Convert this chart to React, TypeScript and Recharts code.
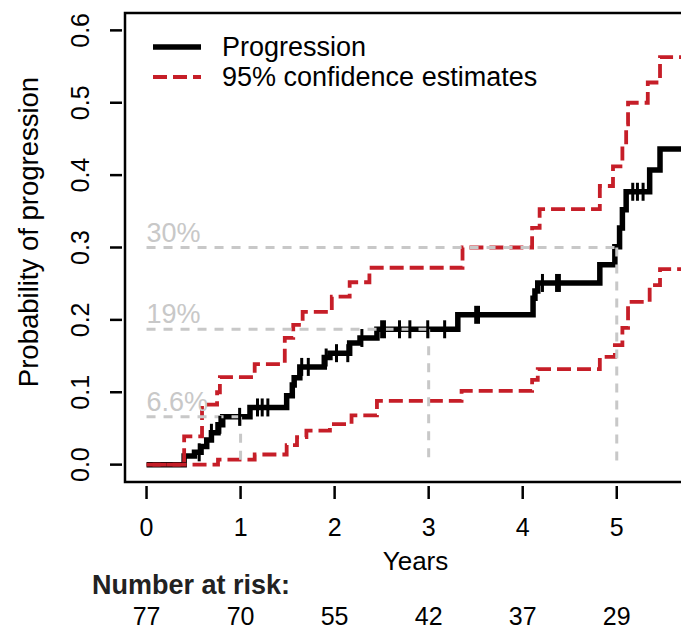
import { ComposedChart, Line, Scatter, XAxis, YAxis, ReferenceLine, ReferenceArea } from 'recharts';

const FONT = '"Liberation Sans", Arial, Helvetica, sans-serif';
const RED = '#C61E28';
const GREY = '#C8C8C8';

// cumulative probability of progression (step function, years)
const progTimes = [0, 0.40, 0.51, 0.58, 0.64, 0.69, 0.76, 0.81, 1.10, 1.49, 1.55, 1.57, 1.63, 1.89, 1.95, 2.16, 2.27, 2.45, 3.31, 4.11, 4.13, 4.16, 4.82, 4.98, 5.03, 5.06, 5.10, 5.35, 5.46, 5.95];
const progValues = [0, 0.012, 0.017, 0.025, 0.034, 0.044, 0.055, 0.066, 0.079, 0.095, 0.110, 0.120, 0.135, 0.148, 0.154, 0.168, 0.175, 0.187, 0.207, 0.230, 0.240, 0.251, 0.276, 0.301, 0.327, 0.352, 0.377, 0.407, 0.436, 0.436];

// 95% confidence bands
const upperTimes = [0, 0.40, 0.59, 0.75, 0.78, 1.15, 1.47, 1.56, 1.66, 1.97, 2.16, 2.37, 3.36, 4.10, 4.18, 4.82, 4.96, 5.06, 5.10, 5.12, 5.33, 5.46, 5.95];
const upperValues = [0, 0.039, 0.083, 0.100, 0.121, 0.139, 0.175, 0.193, 0.211, 0.232, 0.252, 0.272, 0.300, 0.327, 0.353, 0.385, 0.412, 0.440, 0.470, 0.500, 0.528, 0.563, 0.563];
const lowerTimes = [0, 0.76, 1.15, 1.49, 1.60, 1.70, 1.95, 2.18, 2.45, 3.35, 4.10, 4.16, 4.82, 4.98, 5.06, 5.12, 5.35, 5.46, 5.95];
const lowerValues = [0, 0.007, 0.014, 0.027, 0.038, 0.047, 0.056, 0.068, 0.088, 0.102, 0.117, 0.132, 0.149, 0.165, 0.189, 0.225, 0.248, 0.270, 0.270];

// censored observations (years)
const censorTimes = [0.56, 0.69, 0.78, 0.99, 1.18, 1.23, 1.29, 1.65, 1.72, 1.91, 2.02, 2.14, 2.29, 2.50, 2.53, 2.69, 2.80, 2.99, 3.17, 3.50, 3.53, 4.21, 4.36, 4.39, 5.17, 5.22, 5.28];

// milestone estimates
const milestoneYears = [1, 3, 5];
const milestoneProbs = [0.066, 0.187, 0.30];
const milestoneLabels = ['6.6%', '19%', '30%'];

const xTicks = [0, 1, 2, 3, 4, 5];
const yTicks = [0, 0.1, 0.2, 0.3, 0.4, 0.5, 0.6];
const atRisk = [77, 70, 55, 42, 37, 29];

const X_DOMAIN: [number, number] = [-0.229, 5.949];
const Y_DOMAIN: [number, number] = [-0.024, 0.624];

const progData = progTimes.map((t, i) => ({ t, p: progValues[i] }));
const upperData = upperTimes.map((t, i) => ({ t, p: upperValues[i] }));
const lowerData = lowerTimes.map((t, i) => ({ t, p: lowerValues[i] }));

function valueAt(t: number) {
  let v = 0;
  for (let i = 0; i < progTimes.length; i++) {
    if (progTimes[i] <= t) v = progValues[i];
  }
  return v;
}

const censorData = censorTimes.map((t) => ({ t, p: valueAt(t) }));
const milestoneLabelData = milestoneProbs.map((p, i) => ({ t: 0, p, label: milestoneLabels[i] }));

function XTick(props: any) {
  const { x, payload, index } = props;
  return (
    <g>
      <line x1={x} x2={x} y1={486} y2={499} stroke="#000" strokeWidth={2.5} />
      <text x={x} y={536} textAnchor="middle" fontSize={25} fontFamily={FONT} fill="#000">
        {payload.value}
      </text>
      <text x={x} y={625} textAnchor="middle" fontSize={25} fontFamily={FONT} fill="#000">
        {atRisk[index]}
      </text>
    </g>
  );
}

function YTick(props: any) {
  const { y, payload } = props;
  return (
    <g>
      <line x1={110} x2={122} y1={y} y2={y} stroke="#000" strokeWidth={2.5} />
      <text
        x={89}
        y={y}
        transform={`rotate(-90, 89, ${y})`}
        textAnchor="middle"
        fontSize={25}
        fontFamily={FONT}
        fill="#000"
      >
        {Number(payload.value).toFixed(1)}
      </text>
    </g>
  );
}

function CensorMark(props: any) {
  const { cx, cy } = props;
  return <line x1={cx} x2={cx} y1={cy - 9} y2={cy + 9} stroke="#000" strokeWidth={3} />;
}

function MilestoneLabel(props: any) {
  const { cx, cy, payload } = props;
  return (
    <text x={cx} y={cy - 6} fontSize={27} fontFamily={FONT} fill={GREY}>
      {payload.label}
    </text>
  );
}

export default function App() {
  return (
    <div style={{ position: 'absolute', left: 0, top: 0, width: 681, height: 629, overflow: 'hidden', background: '#fff', fontFamily: FONT }}>
      <ComposedChart width={720} height={629} margin={{ top: 13, right: 14, bottom: 0, left: 0 }}>
        <XAxis
          dataKey="t"
          type="number"
          domain={X_DOMAIN}
          allowDataOverflow
          ticks={xTicks}
          interval={0}
          height={147}
          axisLine={false}
          tickLine={false}
          tick={<XTick />}
          label={{ value: 'Years', position: 'insideTop', offset: 70, fill: '#000', fontSize: 26, fontFamily: FONT }}
        />
        <YAxis
          type="number"
          domain={Y_DOMAIN}
          allowDataOverflow
          ticks={yTicks}
          interval={0}
          width={125}
          axisLine={false}
          tickLine={false}
          tick={<YTick />}
        />
        <ReferenceArea x1={X_DOMAIN[0]} x2={X_DOMAIN[1]} y1={Y_DOMAIN[0]} y2={Y_DOMAIN[1]} fill="none" stroke="#000" strokeWidth={2.5} />
        <Line data={progData} dataKey="p" type="stepAfter" stroke="#000" strokeWidth={5.5} dot={false} activeDot={false} isAnimationActive={false} />
        <Scatter data={censorData} dataKey="p" shape={<CensorMark />} isAnimationActive={false} />
        <Line data={upperData} dataKey="p" type="stepAfter" stroke={RED} strokeWidth={3.8} strokeDasharray="14 6" dot={false} activeDot={false} isAnimationActive={false} />
        <Line data={lowerData} dataKey="p" type="stepAfter" stroke={RED} strokeWidth={3.8} strokeDasharray="14 6" strokeDashoffset={14} dot={false} activeDot={false} isAnimationActive={false} />
        {milestoneYears.map((yr, i) => (
          <ReferenceLine
            key={`h${yr}`}
            segment={[{ x: 0, y: milestoneProbs[i] }, { x: yr, y: milestoneProbs[i] }]}
            stroke={GREY}
            strokeWidth={3}
            strokeDasharray="9 8"
          />
        ))}
        {milestoneYears.map((yr, i) => (
          <ReferenceLine
            key={`v${yr}`}
            segment={[{ x: yr, y: milestoneProbs[i] }, { x: yr, y: 0 }]}
            stroke={GREY}
            strokeWidth={3}
            strokeDasharray="9 8"
          />
        ))}
        <Scatter data={milestoneLabelData} dataKey="p" shape={<MilestoneLabel />} isAnimationActive={false} />
      </ComposedChart>

      <svg width={681} height={629} style={{ position: 'absolute', left: 0, top: 0, pointerEvents: 'none' }}>
        <text
          x={38}
          y={232}
          transform="rotate(-90, 38, 232)"
          textAnchor="middle"
          fontSize={27.5}
          fontFamily={FONT}
          fill="#000"
        >
          Probability of progression
        </text>
        <line x1={153} x2={201} y1={47} y2={47} stroke="#000" strokeWidth={5.5} />
        <text x={222} y={56} fontSize={27} fontFamily={FONT} fill="#000">Progression</text>
        <line x1={153} x2={201} y1={77} y2={77} stroke={RED} strokeWidth={3.8} strokeDasharray="14 6" />
        <text x={222} y={86} fontSize={27} fontFamily={FONT} fill="#000">95% confidence estimates</text>
      </svg>

      <div style={{ position: 'absolute', left: 92, top: 569, fontSize: 27, fontWeight: 'bold', color: '#222', lineHeight: '32px' }}>
        Number at risk:
      </div>
    </div>
  );
}
